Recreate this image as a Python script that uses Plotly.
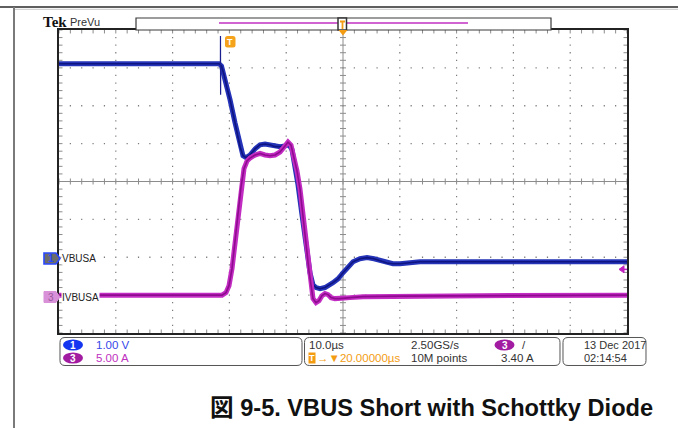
import plotly.graph_objects as go

# ---------------- acquisition data ----------------
# time base: microseconds relative to the trigger, 10 us/div
t_range = [-30, 70]

# CH1  VBUSA  (volts, 1 V/div, ground 2 div below centre)
v_t = [-30.0, -1.83, -1.39, -0.95, -0.42, 0.11, 0.99, 1.87, 2.39, 2.92, 3.63,
       4.51, 5.39, 6.27, 7.15, 8.03, 8.91, 9.79, 10.49, 11.02, 11.55, 12.08,
       12.78, 13.31, 13.84, 14.19, 14.72, 15.25, 15.95, 16.83, 18.24, 19.12,
       20.0, 20.88, 21.76, 22.99, 24.23, 25.46, 26.51, 27.75, 28.80, 30.04,
       31.27, 33.56, 37.08, 44.12, 70.0]
v_val = [5.11, 5.11, 5.05, 4.82, 4.47, 4.16, 3.55, 2.92, 2.68, 2.63, 2.70,
         2.86, 2.97, 2.99, 2.97, 2.92, 2.92, 2.94, 2.97, 2.84, 2.44, 1.91,
         1.12, 0.59, -0.12, -0.41, -0.73, -0.80, -0.83, -0.80, -0.67, -0.57,
         -0.41, -0.25, -0.12, -0.04, -0.01, -0.04, -0.09, -0.15, -0.17, -0.17,
         -0.15, -0.12, -0.12, -0.12, -0.12]

# CH1 short glitch at the start of the collapse
glitch_t = [-1.58, -1.57, -1.55, -1.53]
glitch_v = [5.11, 5.84, 4.29, 5.05]

# CH3  IVBUSA  (amps, 5 A/div, ground 3 div below centre)
i_t = [-30.0, -1.30, -0.60, -0.07, 0.46, 0.99, 1.51, 2.04, 2.57, 3.10, 3.63,
       4.51, 5.39, 6.27, 7.15, 8.03, 8.91, 9.79, 10.32, 10.85, 11.37, 11.90,
       12.43, 12.96, 13.49, 14.01, 14.37, 14.72, 15.25, 15.77, 16.30, 16.83,
       17.36, 17.89, 18.59, 19.47, 21.23, 23.52, 30.04, 44.12, 70.0]
i_val = [0.0, 0.0, 0.33, 1.25, 3.5, 6.8, 10.7, 14.3, 16.7, 17.7, 18.1,
         18.5, 18.7, 18.5, 18.4, 18.5, 18.9, 19.7, 20.2, 19.8, 18.3, 16.4,
         14.0, 10.7, 6.8, 3.2, 1.25, -0.46, -0.99, -0.73, -0.07, 0.2,
         0.07, -0.33, -0.46, -0.46, -0.33, -0.2, -0.13, -0.07, 0.0]

v_range = [-2, 6]        # 8 div x 1 V
i_range = [-5, 35]       # 8 div x 5 A
trig_level = 3.40        # A, CH3 rising edge

# ---------------- screen geometry (pixels) ----------------
FW, FH = 678, 428
L, R, T, B = 59, 627, 30, 333
W, H = R - L, B - T
CX, CY = L + W / 2, T + H / 2


def fx(x):
    return (x - L) / W


def fy(y):
    return (B - y) / H


def pth(points, close=False):
    s = "M " + " L ".join(f"{fx(x):.5f},{fy(y):.5f}" for x, y in points)
    return s + (" Z" if close else "")


def rrect(x0, y0, x1, y1, r):
    P = lambda x, y: f"{fx(x):.5f},{fy(y):.5f}"
    return (f"M {P(x0 + r, y0)} L {P(x1 - r, y0)} Q {P(x1, y0)} {P(x1, y0 + r)} "
            f"L {P(x1, y1 - r)} Q {P(x1, y1)} {P(x1 - r, y1)} L {P(x0 + r, y1)} "
            f"Q {P(x0, y1)} {P(x0, y1 - r)} L {P(x0, y0 + r)} Q {P(x0, y0)} {P(x0 + r, y0)} Z")


fig = go.Figure()

# waveforms
fig.add_trace(go.Scatter(x=v_t, y=v_val, mode="lines", yaxis="y",
                         line=dict(color="#2433b8", width=5), hoverinfo="skip"))
fig.add_trace(go.Scatter(x=v_t, y=v_val, mode="lines", yaxis="y",
                         line=dict(color="#0e1480", width=1.6), hoverinfo="skip"))
fig.add_trace(go.Scatter(x=glitch_t, y=glitch_v, mode="lines", yaxis="y",
                         line=dict(color="#1a2090", width=1.2), hoverinfo="skip"))
fig.add_trace(go.Scatter(x=i_t, y=i_val, mode="lines", yaxis="y2",
                         line=dict(color="#c22cc2", width=5), hoverinfo="skip"))
fig.add_trace(go.Scatter(x=i_t, y=i_val, mode="lines", yaxis="y2",
                         line=dict(color="#8e0a8e", width=1.6), hoverinfo="skip"))

shapes = []

# dotted graticule: one dot every fifth of a division
dots = []
for i in range(1, 10):
    if i == 5:
        continue
    x = L + i * W / 10
    for k in range(1, 40):
        y = T + k * H / 40
        dots.append(pth([(x - 0.6, y), (x + 0.6, y)]))
for j in range(1, 8):
    if j == 4:
        continue
    y = T + j * H / 8
    for k in range(1, 50):
        x = L + k * W / 50
        dots.append(pth([(x - 0.6, y), (x + 0.6, y)]))
shapes.append(dict(type="path", xref="paper", yref="paper", path=" ".join(dots),
                   line=dict(color="#7c7c7c", width=1.3), layer="below"))

# solid centre cross
shapes.append(dict(type="line", xref="x", yref="paper", x0=20, x1=20, y0=0, y1=1,
                   line=dict(color="#8c8c8c", width=1), layer="below"))
shapes.append(dict(type="line", xref="paper", yref="y", x0=0, x1=1, y0=2, y1=2,
                   line=dict(color="#8c8c8c", width=1), layer="below"))

# minor ticks on the border and on the centre cross
seg = []
for k in range(51):
    x = L + k * W / 50
    seg.append(pth([(x, T), (x, T + 3.5)]))
    seg.append(pth([(x, B), (x, B - 3.5)]))
    seg.append(pth([(x, CY - 3), (x, CY + 3)]))
for k in range(41):
    y = T + k * H / 40
    seg.append(pth([(L, y), (L + 3.5, y)]))
    seg.append(pth([(R, y), (R - 3.5, y)]))
    seg.append(pth([(CX - 3, y), (CX + 3, y)]))
shapes.append(dict(type="path", xref="paper", yref="paper", path=" ".join(seg),
                   line=dict(color="#8c8c8c", width=1), layer="below"))

# frame lines of the screen shot
shapes.append(dict(type="line", xref="paper", yref="paper", x0=fx(0), x1=fx(FW),
                   y0=fy(7), y1=fy(7), line=dict(color="#2a2a2a", width=1.6)))
shapes.append(dict(type="line", xref="paper", yref="paper", x0=fx(14), x1=fx(FW),
                   y0=fy(9.3), y1=fy(9.3), line=dict(color="#c8c8c8", width=1)))
shapes.append(dict(type="line", xref="paper", yref="paper", x0=fx(14), x1=fx(14),
                   y0=fy(7), y1=fy(FH), line=dict(color="#7a7a7a", width=2)))

# record view bar
shapes.append(dict(type="rect", xref="paper", yref="paper", x0=fx(136), x1=fx(551),
                   y0=fy(18), y1=fy(30), line=dict(color="#3a3a3a", width=1.2),
                   fillcolor="white"))
shapes.append(dict(type="line", xref="paper", yref="paper", x0=fx(219), x1=fx(468),
                   y0=fy(23), y1=fy(23), line=dict(color="#c030c0", width=1.5)))
shapes.append(dict(type="rect", xref="paper", yref="paper", x0=fx(338), x1=fx(346.5),
                   y0=fy(18), y1=fy(30), line=dict(color="#333333", width=1.5),
                   fillcolor="white"))
shapes.append(dict(type="path", xref="paper", yref="paper",
                   path=pth([(340, 20.5), (345, 20.5), (345, 22.5), (343.4, 22.5),
                             (343.4, 29), (341.6, 29), (341.6, 22.5), (340, 22.5)], True),
                   line=dict(width=0), fillcolor="#f39c12"))
# horizontal position marker
shapes.append(dict(type="path", xref="paper", yref="paper",
                   path=pth([(338.5, 30), (347.5, 30), (343, 35.5)], True),
                   line=dict(width=0), fillcolor="#f39c12"))
# trigger point marker
shapes.append(dict(type="path", xref="paper", yref="paper",
                   path=rrect(225, 36, 235.5, 47.5, 2.5),
                   line=dict(width=0), fillcolor="#f5a21c"))

# channel ground markers
shapes.append(dict(type="path", xref="paper", yref="paper",
                   path=pth([(44, 253), (56, 253), (60, 258.5), (56, 264), (44, 264)], True),
                   line=dict(color="#2a48ff", width=1.6), fillcolor="#6c6c6c"))
shapes.append(dict(type="path", xref="paper", yref="paper",
                   path=pth([(44, 291.5), (56, 291.5), (60, 297), (56, 302.5), (44, 302.5)], True),
                   line=dict(color="#d890d8", width=1), fillcolor="#d890d8"))

# CH3 trigger level marker on the right edge
trig_y = B - (trig_level - i_range[0]) / (i_range[1] - i_range[0]) * H
shapes.append(dict(type="path", xref="paper", yref="paper",
                   path=pth([(619, trig_y), (624, trig_y - 3.5), (624, trig_y + 3.5)], True),
                   line=dict(color="#c020c0", width=1), fillcolor="#c020c0"))
shapes.append(dict(type="line", xref="paper", yref="paper", x0=fx(622), x1=fx(627),
                   y0=fy(trig_y), y1=fy(trig_y), line=dict(color="#c020c0", width=1.5)))

# readout panels
for x0, x1 in [(60, 302), (304.5, 560), (563, 646)]:
    shapes.append(dict(type="path", xref="paper", yref="paper",
                       path=rrect(x0, 337.5, x1, 365.5, 5),
                       line=dict(color="#555555", width=1), fillcolor="white"))
for cx, cy, col in [(73, 345, "#1436f0"), (73, 358, "#a21ca2"), (504.5, 345, "#a21ca2")]:
    shapes.append(dict(type="circle", xref="paper", yref="paper",
                       x0=fx(cx - 10), x1=fx(cx + 10), y0=fy(cy - 5.5), y1=fy(cy + 5.5),
                       line=dict(width=0), fillcolor=col))

SANS = "Liberation Sans, Arial, sans-serif"
ann = []


def text(x, y, s, size=11, color="#333333", anchor="left", family=SANS, bg=None, bold=False):
    d = dict(xref="paper", yref="paper", x=fx(x), y=fy(y), text=f"<b>{s}</b>" if bold else s,
             showarrow=False, xanchor=anchor, yanchor="middle",
             font=dict(family=family, size=size, color=color), borderpad=0)
    if bg:
        d["bgcolor"] = bg
    ann.append(d)


text(42, 22, "Tek", size=15, color="#111111", family="Liberation Serif, serif", bold=True)
text(69, 22, "PreVu", size=11, color="#333333")
text(230.3, 42, "T", size=9, color="white", anchor="center", bold=True)
text(50.5, 258.5, "1", size=10, color="#2a48ff", anchor="center", bold=True)
text(50.5, 297, "3", size=10, color="#9c5a9c", anchor="center")
text(60.5, 258.5, "VBUSA", size=10, color="#222222", bg="white")
text(60.5, 297, "IVBUSA", size=10, color="#222222", bg="white")

text(73, 345, "1", size=10, color="white", anchor="center", bold=True)
text(73, 358, "3", size=10, color="white", anchor="center", bold=True)
text(95, 345, "1.00 V", size=11.5, color="#3448e8")
text(95, 358, "5.00 A", size=11.5, color="#c030c0")
text(307.5, 345, "10.0µs", size=11.5)
text(307.5, 358, "T", size=9, color="white", bg="#f39c12", bold=True)
text(316, 358, "→▼20.00000µs", size=11.5, color="#f39c12")
text(410, 345, "2.50GS/s", size=11.5)
text(410, 358, "10M points", size=11.5)
text(504.5, 345, "3", size=10, color="white", anchor="center", bold=True)
text(521, 345, "/", size=11.5)
text(500, 358, "3.40 A", size=11.5)
text(583, 345, "13 Dec 2017", size=11)
text(583, 358, "02:14:54", size=11)

text(431, 408, "図 9-5. VBUS Short with Schottky Diode", size=23.6, color="#111111",
     anchor="center", family="Liberation Sans, Noto Sans CJK JP, sans-serif", bold=True)

axis_common = dict(showticklabels=False, ticks="", zeroline=False, showline=True,
                   linecolor="#222222", linewidth=1.5, mirror=True, showgrid=False,
                   fixedrange=True)

fig.update_layout(
    width=FW, height=FH, autosize=False,
    margin=dict(l=L, r=FW - R, t=T, b=FH - B, pad=0),
    paper_bgcolor="white", plot_bgcolor="white", showlegend=False,
    xaxis=dict(range=t_range, **axis_common),
    yaxis=dict(range=v_range, **axis_common),
    yaxis2=dict(range=i_range, overlaying="y", visible=False, fixedrange=True),
    shapes=shapes, annotations=ann,
)

fig.write_html("out.html")
